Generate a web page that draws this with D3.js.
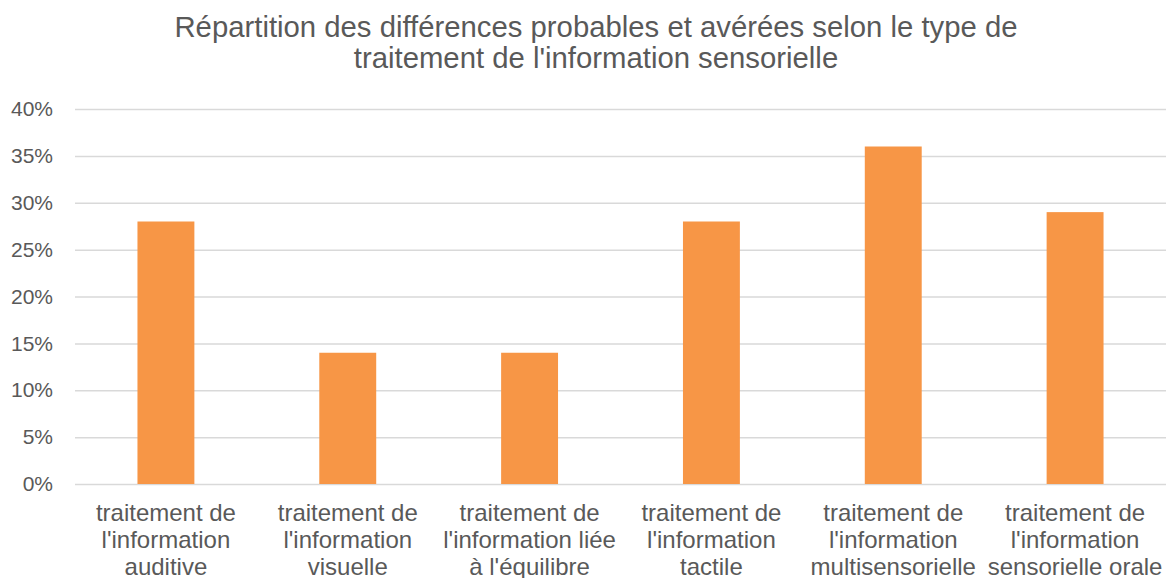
<!DOCTYPE html>
<html>
<head>
<meta charset="utf-8">
<script src="https://cdn.jsdelivr.net/npm/d3@7"></script>
<style>
  body { margin: 0; background: #fff; }
  text { font-family: "Liberation Sans", Arial, sans-serif; fill: #595959; }
</style>
</head>
<body>
<div id="chart"></div>
<script>
const titleLines = ["Répartition des différences probables et avérées selon le type de",
                    "traitement de l'information sensorielle"];

const categories = [
  ["traitement de", "l'information", "auditive"],
  ["traitement de", "l'information", "visuelle"],
  ["traitement de", "l'information liée", "à l'équilibre"],
  ["traitement de", "l'information", "tactile"],
  ["traitement de", "l'information", "multisensorielle"],
  ["traitement de", "l'information", "sensorielle orale"]
];
const values = [0.28, 0.14, 0.14, 0.28, 0.36, 0.29];
const yTicks = [0, 0.05, 0.10, 0.15, 0.20, 0.25, 0.30, 0.35, 0.40];

const width = 1166, height = 578;
const margin = { top: 109, right: 0, bottom: 94, left: 75 };
const innerW = width - margin.left - margin.right;
const innerH = height - margin.top - margin.bottom;

const svg = d3.select('#chart')
  .append('svg')
  .attr('width', width)
  .attr('height', height);

// title
svg.append('text')
  .attr('text-anchor', 'middle')
  .style('font-size', '29.3px')
  .selectAll('tspan')
  .data(titleLines)
  .join('tspan')
  .attr('x', 596)
  .attr('y', (d, i) => 37 + i * 31)
  .text(d => d);

const g = svg.append('g')
  .attr('transform', 'translate(' + [margin.left, margin.top] + ')');

const x = d3.scaleBand()
  .domain(d3.range(categories.length))
  .range([0, innerW])
  .paddingInner(0.687)
  .paddingOuter(0.3435);

const y = d3.scaleLinear()
  .domain([0, 0.40])
  .range([innerH, 0]);

// grid
g.append('g')
  .attr('class', 'grid')
  .call(d3.axisLeft(y).tickValues(yTicks).tickSize(-innerW).tickFormat(''))
  .call(a => a.select('.domain').remove())
  .call(a => a.selectAll('line').attr('stroke', '#d9d9d9').attr('stroke-width', 1.5));

// y labels
g.append('g')
  .call(d3.axisLeft(y).tickValues(yTicks).tickSize(0).tickPadding(22).tickFormat(d3.format('.0%')))
  .call(a => a.select('.domain').remove())
  .call(a => a.selectAll('text').style('font-size', '21px').attr('fill', '#595959')
    .style('font-family', '"Liberation Sans", Arial, sans-serif'));

// bars
g.selectAll('.bar')
  .data(values)
  .join('rect')
  .attr('class', 'bar')
  .attr('x', (d, i) => x(i))
  .attr('width', x.bandwidth())
  .attr('y', d => y(d))
  .attr('height', d => innerH - y(d))
  .attr('fill', '#f79646');

// x labels
const xl = g.append('g')
  .selectAll('text')
  .data(categories)
  .join('text')
  .attr('text-anchor', 'middle')
  .style('font-size', '24px')
  .attr('transform', (d, i) => 'translate(' + (x(i) + x.bandwidth() / 2) + ',' + innerH + ')');

xl.selectAll('tspan')
  .data(d => d)
  .join('tspan')
  .attr('x', 0)
  .attr('y', (d, i) => 37 + i * 27.2)
  .text(d => d);
</script>
</body>
</html>
